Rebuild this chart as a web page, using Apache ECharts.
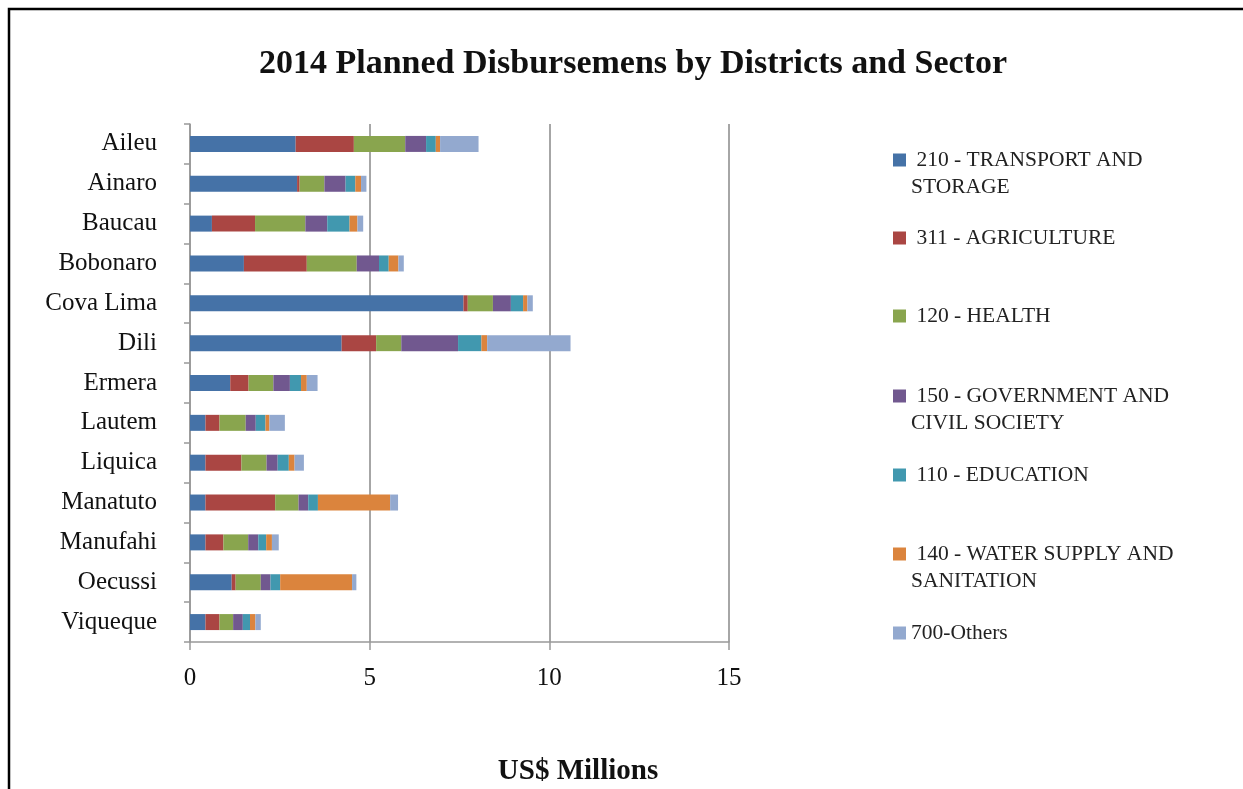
<!DOCTYPE html>
<html>
<head>
<meta charset="utf-8">
<script src="https://cdn.jsdelivr.net/npm/echarts@6/dist/echarts.min.js"></script>
<style>
html,body{margin:0;padding:0;background:#fff;}
#chart{width:1243px;height:789px;}
</style>
</head>
<body>
<div id="chart"></div>
<script>
var districts = ['Aileu','Ainaro','Baucau','Bobonaro','Cova Lima','Dili','Ermera','Lautem','Liquica','Manatuto','Manufahi','Oecussi','Viqueque'];
var sectorNames = ['210 - TRANSPORT AND STORAGE','311 - AGRICULTURE','120 - HEALTH','150 - GOVERNMENT AND CIVIL SOCIETY','110 - EDUCATION','140 - WATER SUPPLY AND SANITATION','700-Others'];
var legendLabels = [' 210 - TRANSPORT AND\nSTORAGE',' 311 - AGRICULTURE',' 120 - HEALTH',' 150 - GOVERNMENT AND\nCIVIL SOCIETY',' 110 - EDUCATION',' 140 - WATER SUPPLY AND\nSANITATION','700-Others'];
var transport   = [2.94, 2.98, 0.61, 1.50, 7.61, 4.22, 1.12, 0.43, 0.43, 0.43, 0.43, 1.16, 0.43];
var agriculture = [1.62, 0.07, 1.20, 1.75, 0.12, 0.96, 0.51, 0.39, 1.00, 1.94, 0.50, 0.11, 0.39];
var health      = [1.43, 0.69, 1.40, 1.39, 0.70, 0.70, 0.69, 0.73, 0.70, 0.65, 0.69, 0.70, 0.38];
var government  = [0.58, 0.59, 0.61, 0.62, 0.50, 1.58, 0.46, 0.28, 0.31, 0.27, 0.28, 0.27, 0.27];
var education   = [0.27, 0.27, 0.62, 0.27, 0.34, 0.65, 0.31, 0.27, 0.31, 0.27, 0.22, 0.27, 0.20];
var water       = [0.12, 0.16, 0.22, 0.27, 0.12, 0.16, 0.16, 0.11, 0.16, 2.01, 0.16, 2.00, 0.15];
var others      = [1.07, 0.15, 0.16, 0.15, 0.15, 2.32, 0.30, 0.43, 0.26, 0.22, 0.19, 0.12, 0.15];
var xTicks = [0, 5, 10, 15];

var seriesValues = [transport, agriculture, health, government, education, water, others];
var colors = ['#4572A7','#AA4643','#89A54E','#71588F','#4198AF','#DB843D','#93A9CF'];
var FONT = 'Liberation Serif';

var legendCenters = [160, 238, 316, 396, 475, 554, 633];
var LH = 27;
var legends = sectorNames.map(function(name, i){
  var twoLine = legendLabels[i].indexOf('\n') >= 0;
  var label = twoLine ? '\n' + legendLabels[i] : legendLabels[i];
  return {
    data: [name],
    orient: 'vertical',
    left: 893,
    padding: 0,
    top: twoLine ? legendCenters[i] - 1.5 * LH : legendCenters[i] - 0.5 * LH,
    itemWidth: 13,
    itemHeight: 13,
    icon: 'rect',
    selectedMode: false,
    formatter: function(){ return label; },
    textStyle: {fontFamily: FONT, fontSize: 21.5, color: '#222', lineHeight: LH}
  };
});

var chart = echarts.init(document.getElementById('chart'));
chart.setOption({
  animation: false,
  backgroundColor: '#fff',
  color: colors,
  title: [{
    text: '2014 Planned Disbursemens by Districts and Sector',
    left: 628, top: 42, textAlign: 'center',
    textStyle: {fontFamily: FONT, fontSize: 34, fontWeight: 'bold', color: '#111'}
  },{
    text: 'US$ Millions',
    left: 573, top: 752, textAlign: 'center',
    textStyle: {fontFamily: FONT, fontSize: 29, fontWeight: 'bold', color: '#111'}
  }],
  legend: legends,
  grid: {left: 190, top: 124, width: 539, height: 518, containLabel: false},
  xAxis: {
    type: 'value', min: 0, max: 15, interval: 5,
    axisLine: {show: true, lineStyle: {color: '#999', width: 1.5}},
    axisTick: {show: true, length: 8, lineStyle: {color: '#999', width: 1.5}},
    axisLabel: {fontFamily: FONT, fontSize: 25, color: '#111', margin: 24,
      formatter: function(v){ return xTicks.indexOf(v) >= 0 ? String(v) : ''; }},
    splitLine: {show: true, lineStyle: {color: '#888', width: 1.5}}
  },
  yAxis: {
    type: 'category', data: districts, inverse: true,
    axisLine: {show: true, lineStyle: {color: '#999', width: 1.5}},
    axisTick: {show: true, length: 6, lineStyle: {color: '#999', width: 1.5}},
    axisLabel: {fontFamily: FONT, fontSize: 25, color: '#111', margin: 33}
  },
  series: sectorNames.map(function(name, i){
    return {
      name: name, type: 'bar', stack: 'total',
      data: seriesValues[i],
      barWidth: 16,
      itemStyle: {color: colors[i]}
    };
  }),
  graphic: [{
    type: 'polyline',
    shape: {points: [[9, 789], [9, 9], [1243, 9]]},
    style: {stroke: '#000', lineWidth: 2.5, fill: null},
    silent: true
  }]
});
</script>
</body>
</html>
